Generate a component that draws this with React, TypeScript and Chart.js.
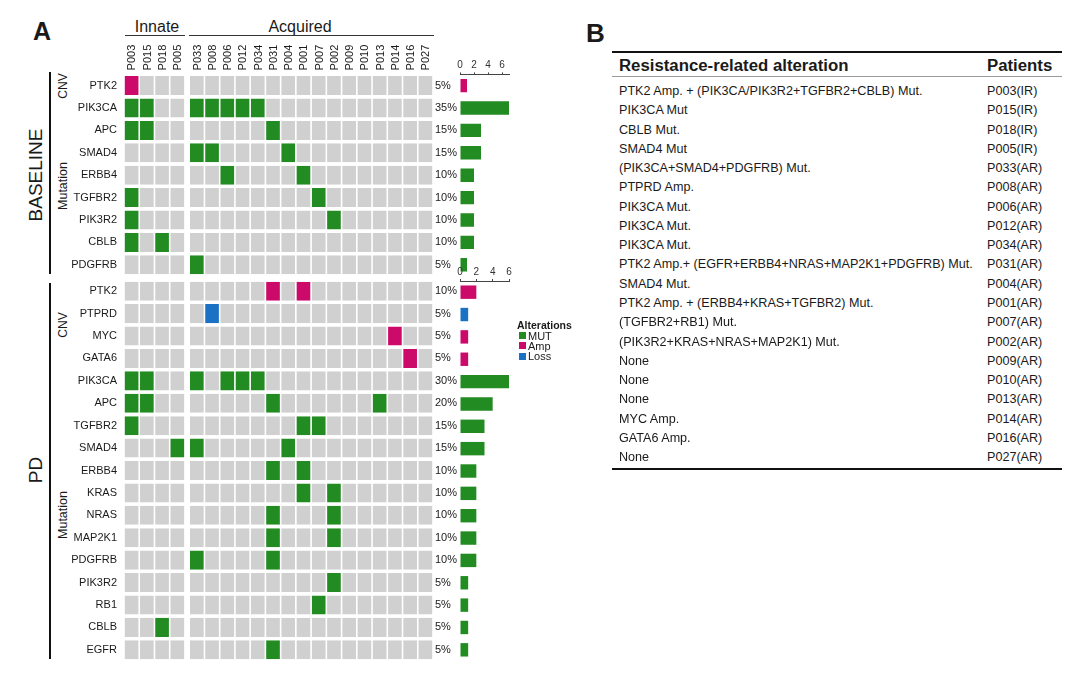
import React, { useEffect, useRef } from "react";
import Chart from "chart.js/auto";

// ---------------- data ----------------
const patients = ["P003","P015","P018","P005","P033","P008","P006","P012","P034","P031","P004","P001","P007","P002","P009","P010","P013","P014","P016","P027"];
const INNATE_COUNT = 4;

const baselineGenes = ["PTK2","PIK3CA","APC","SMAD4","ERBB4","TGFBR2","PIK3R2","CBLB","PDGFRB"];
const baselineKinds = ["Amp","MUT","MUT","MUT","MUT","MUT","MUT","MUT","MUT"];
const baselineHits = [
  ["P003"],
  ["P003","P015","P033","P008","P006","P012","P034"],
  ["P003","P015","P031"],
  ["P033","P008","P004"],
  ["P006","P001"],
  ["P003","P007"],
  ["P003","P002"],
  ["P003","P018"],
  ["P033"],
];

const pdGenes = ["PTK2","PTPRD","MYC","GATA6","PIK3CA","APC","TGFBR2","SMAD4","ERBB4","KRAS","NRAS","MAP2K1","PDGFRB","PIK3R2","RB1","CBLB","EGFR"];
const pdKinds = ["Amp","Loss","Amp","Amp","MUT","MUT","MUT","MUT","MUT","MUT","MUT","MUT","MUT","MUT","MUT","MUT","MUT"];
const pdHits = [
  ["P031","P001"],
  ["P008"],
  ["P014"],
  ["P016"],
  ["P003","P015","P033","P006","P012","P034"],
  ["P003","P015","P031","P013"],
  ["P003","P001","P007"],
  ["P005","P033","P004"],
  ["P031","P001"],
  ["P001","P002"],
  ["P031","P002"],
  ["P031","P002"],
  ["P033","P031"],
  ["P002"],
  ["P007"],
  ["P018"],
  ["P031"],
];

const countTicks = [0, 2, 4, 6];
const legendItems = ["MUT", "Amp", "Loss"];

const tableAlterations = [
  "PTK2 Amp. + (PIK3CA/PIK3R2+TGFBR2+CBLB) Mut.",
  "PIK3CA Mut",
  "CBLB Mut.",
  "SMAD4 Mut",
  "(PIK3CA+SMAD4+PDGFRB) Mut.",
  "PTPRD Amp.",
  "PIK3CA Mut.",
  "PIK3CA Mut.",
  "PIK3CA Mut.",
  "PTK2 Amp.+ (EGFR+ERBB4+NRAS+MAP2K1+PDGFRB) Mut.",
  "SMAD4 Mut.",
  "PTK2 Amp. + (ERBB4+KRAS+TGFBR2) Mut.",
  "(TGFBR2+RB1) Mut.",
  "(PIK3R2+KRAS+NRAS+MAP2K1) Mut.",
  "None",
  "None",
  "None",
  "MYC Amp.",
  "GATA6 Amp.",
  "None",
];
const tablePatients = ["P003(IR)","P015(IR)","P018(IR)","P005(IR)","P033(AR)","P008(AR)","P006(AR)","P012(AR)","P034(AR)","P031(AR)","P004(AR)","P001(AR)","P007(AR)","P002(AR)","P009(AR)","P010(AR)","P013(AR)","P014(AR)","P016(AR)","P027(AR)"];

// ---------------- styles ----------------
const FONT = "'Liberation Sans', Arial, Helvetica, sans-serif";
const COLORS: Record<string, string> = { MUT: "#228b22", Amp: "#cc0a6a", Loss: "#1b72c4" };
const EMPTY = "#d0d0d0";
const TEXT = "#1a1a1a";
const GROUP_GAP = 0.28;
const ROW_H = 22.4;

function columnCenters(): number[] {
  return patients.map((_, j) => j + 0.5 + (j >= INNATE_COUNT ? GROUP_GAP : 0));
}

function zeroPad(ax: any) {
  ax.paddingTop = 0;
  ax.paddingBottom = 0;
  ax.paddingLeft = 0;
  ax.paddingRight = 0;
}

function matrixConfig(genes: string[], kinds: string[], hits: string[][], showPatients: boolean, topH: number): any {
  const datasets: any[] = [];
  patients.forEach((p, j) => {
    if (j === INNATE_COUNT) {
      datasets.push({
        label: "gap",
        data: genes.map(() => GROUP_GAP),
        backgroundColor: "rgba(0,0,0,0)",
        borderWidth: 0,
        stack: "m",
        barPercentage: 0.85,
        categoryPercentage: 1,
      });
    }
    datasets.push({
      label: p,
      data: genes.map(() => 1),
      backgroundColor: genes.map((_, i) => (hits[i].includes(p) ? COLORS[kinds[i]] : EMPTY)),
      borderColor: "#ffffff",
      borderWidth: { left: 0.8, right: 0.8, top: 0, bottom: 0 },
      borderSkipped: false,
      stack: "m",
      barPercentage: 0.85,
      categoryPercentage: 1,
    });
  });
  const pct = hits.map((h) => `${Math.round((h.length / patients.length) * 100)}%`);
  const centers = columnCenters();
  return {
    type: "bar",
    data: { labels: genes, datasets },
    options: {
      indexAxis: "y",
      animation: false,
      responsive: false,
      maintainAspectRatio: false,
      layout: { padding: 0 },
      plugins: { legend: { display: false }, tooltip: { enabled: false } },
      scales: {
        x: {
          type: "linear",
          position: "top",
          stacked: true,
          min: 0,
          max: patients.length + GROUP_GAP,
          display: showPatients,
          grid: { display: false, drawTicks: false },
          border: { display: false },
          afterBuildTicks: (ax: any) => {
            ax.ticks = centers.map((v) => ({ value: v }));
          },
          ticks: {
            autoSkip: false,
            minRotation: 90,
            maxRotation: 90,
            padding: 4,
            labelOffset: 14,
            color: TEXT,
            font: { family: FONT, size: 11 },
            callback: (_v: any, i: number) => patients[i],
          },
          afterFit: (ax: any) => {
            ax.height = topH;
            zeroPad(ax);
          },
        },
        y: {
          type: "category",
          position: "left",
          stacked: true,
          offset: true,
          grid: { display: false, drawTicks: false },
          border: { display: false },
          ticks: { padding: 7, color: TEXT, font: { family: FONT, size: 11 } },
          afterFit: (ax: any) => {
            ax.width = 124;
            zeroPad(ax);
          },
        },
        y2: {
          type: "category",
          labels: pct,
          position: "right",
          offset: true,
          grid: { display: false, drawTicks: false },
          border: { display: false },
          ticks: { padding: 2, color: TEXT, font: { family: FONT, size: 11 } },
          afterFit: (ax: any) => {
            ax.width = 27;
            zeroPad(ax);
          },
        },
      },
    },
  };
}

function barsConfig(genes: string[], kinds: string[], hits: string[][], topH: number): any {
  const counts = hits.map((h) => h.length);
  return {
    type: "bar",
    data: {
      labels: genes,
      datasets: [
        {
          data: counts,
          backgroundColor: kinds.map((k) => COLORS[k]),
          barPercentage: 0.6,
          categoryPercentage: 1,
        },
      ],
    },
    options: {
      indexAxis: "y",
      animation: false,
      responsive: false,
      maintainAspectRatio: false,
      layout: { padding: { left: 20, right: 11, top: 0, bottom: 0 } },
      plugins: { legend: { display: false }, tooltip: { enabled: false } },
      scales: {
        x: {
          type: "linear",
          position: "top",
          min: 0,
          max: Math.max(...counts),
          grid: { drawOnChartArea: false, drawTicks: true, tickLength: 2, color: "#444" },
          border: { display: true, color: "#444", width: 1 },
          afterBuildTicks: (ax: any) => {
            ax.ticks = countTicks.map((v) => ({ value: v }));
          },
          ticks: { padding: 1, color: "#333", font: { family: FONT, size: 10 } },
          afterFit: (ax: any) => {
            ax.height = topH;
            zeroPad(ax);
          },
        },
        y: { type: "category", display: false, offset: true },
      },
    },
  };
}

function ChartCanvas({ config, left, top, width, height }: any) {
  const ref = useRef<HTMLCanvasElement>(null);
  useEffect(() => {
    if (!ref.current) return;
    const chart = new Chart(ref.current, config);
    return () => chart.destroy();
  }, []);
  return (
    <canvas
      ref={ref}
      width={width}
      height={height}
      style={{ position: "absolute", left, top, width, height }}
    />
  );
}

function Txt({ x, y, children, size = 12, bold = false, anchor = "start", rotate = false, color = TEXT }: any) {
  const tx = anchor === "middle" ? "-50%" : anchor === "end" ? "-100%" : "0";
  return (
    <div
      style={{
        position: "absolute",
        left: x,
        top: y,
        fontFamily: FONT,
        fontSize: size,
        fontWeight: bold ? "bold" : "normal",
        lineHeight: 1,
        whiteSpace: "nowrap",
        color,
        transform: rotate ? "translate(-50%,-50%) rotate(-90deg)" : `translate(${tx},-50%)`,
      }}
    >
      {children}
    </div>
  );
}

function Line({ x, y, w, h, color = "#000" }: any) {
  return <div style={{ position: "absolute", left: x, top: y, width: w, height: h, background: color }} />;
}

export default function App() {
  const baseTop = 74.4;
  const baseH = baselineGenes.length * ROW_H;
  const pdTop = 280;
  const pdH = pdGenes.length * ROW_H;
  const rowY0 = 91;
  const rowStep = 19.27;
  return (
    <div style={{ position: "fixed", left: 0, top: 0, width: 1080, height: 679, background: "#fff", overflow: "hidden" }}>
      {/* Panel A titles */}
      <Txt x={33} y={31} size={25} bold>A</Txt>
      <Txt x={157} y={27} size={16} anchor="middle">Innate</Txt>
      <Txt x={300} y={27} size={16} anchor="middle">Acquired</Txt>
      <Line x={125} y={35} w={60} h={1} color="#333" />
      <Line x={189} y={35} w={245} h={1} color="#333" />

      <Txt x={35} y={baseTop + baseH / 2} size={19} rotate>BASELINE</Txt>
      <Txt x={35} y={pdTop + pdH / 2} size={19} rotate>PD</Txt>
      <Line x={49} y={72} w={1.8} h={202} color="#111" />
      <Line x={49} y={283} w={1.8} h={376} color="#111" />

      <Txt x={63} y={baseTop + ROW_H * 0.5} size={12} rotate>CNV</Txt>
      <Txt x={63} y={baseTop + ROW_H * 5} size={12.5} rotate>Mutation</Txt>
      <Txt x={63} y={pdTop + ROW_H * 2} size={12} rotate>CNV</Txt>
      <Txt x={63} y={pdTop + ROW_H * 10.5} size={12.5} rotate>Mutation</Txt>

      <ChartCanvas config={matrixConfig(baselineGenes, baselineKinds, baselineHits, true, baseTop)} left={0} top={0} width={460} height={Math.round(baseTop + baseH)} />
      <ChartCanvas config={barsConfig(baselineGenes, baselineKinds, baselineHits, baseTop)} left={440} top={0} width={80} height={Math.round(baseTop + baseH)} />
      <ChartCanvas config={matrixConfig(pdGenes, pdKinds, pdHits, false, 0)} left={0} top={pdTop} width={460} height={Math.round(pdH)} />
      <ChartCanvas config={barsConfig(pdGenes, pdKinds, pdHits, 20)} left={440} top={pdTop - 19} width={80} height={Math.round(pdH) + 19} />

      {/* legend */}
      <Txt x={517} y={325} size={10.5} bold>Alterations</Txt>
      {legendItems.map((k, i) => (
        <React.Fragment key={k}>
          <div style={{ position: "absolute", left: 519, top: 332 + i * 10.3, width: 7, height: 7, background: COLORS[k] }} />
          <Txt x={528} y={335.8 + i * 10.3} size={11}>{k}</Txt>
        </React.Fragment>
      ))}

      {/* Panel B */}
      <Txt x={586} y={33} size={26} bold>B</Txt>
      <Line x={612} y={51} w={450} h={2.2} color="#111" />
      <Txt x={619} y={65.5} size={16.8} bold>Resistance-related alteration</Txt>
      <Txt x={987} y={65.5} size={16.8} bold>Patients</Txt>
      <Line x={612} y={76} w={450} h={1.4} color="#9a9a9a" />
      {tableAlterations.map((t, i) => (
        <Txt key={"a" + i} x={619} y={rowY0 + i * rowStep} size={12.6}>{t}</Txt>
      ))}
      {tablePatients.map((t, i) => (
        <Txt key={"p" + i} x={987} y={rowY0 + i * rowStep} size={12.6}>{t}</Txt>
      ))}
      <Line x={612} y={467.5} w={450} h={2} color="#111" />
    </div>
  );
}
